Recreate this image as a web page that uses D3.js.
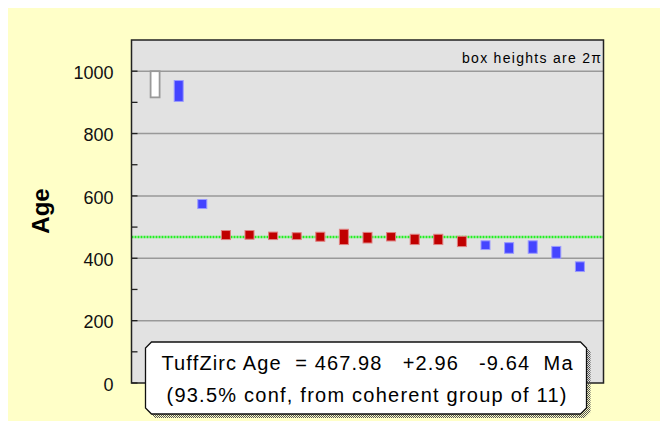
<!DOCTYPE html>
<html>
<head>
<meta charset="utf-8">
<script src="https://cdn.jsdelivr.net/npm/d3@7"></script>
<style>
  body { margin: 0; background: #fff; }
  text { font-family: "Liberation Sans", Arial, sans-serif; }
</style>
</head>
<body>
<svg id="chart" width="660" height="421"></svg>
<script>
// spot ages (Ma)
var ages = [958, 936.5, 574, 474.5, 475, 472, 471, 469, 468.5, 466, 469, 460.5, 460.5, 454, 442, 433, 436, 419, 373];
// half box heights (2 sigma)
var errs = [42, 33.5, 14.5, 14.5, 14, 12, 11, 14.5, 24.5, 17, 13.5, 16.5, 16.5, 16.5, 14, 17, 20, 19, 15.5];
// r = rejected, o = outside coherent group, c = coherent group
var groups = ["r", "o", "o", "c", "c", "c", "c", "c", "c", "c", "c", "c", "c", "c", "o", "o", "o", "o", "o"];
var yTicks = [0, 200, 400, 600, 800, 1000];
var yMinor = [100, 300, 500, 700, 900];
var tuffAge = 467.98;
var line1 = "TuffZirc Age  = 467.98   +2.96   -9.64  Ma";
var line2 = "(93.5% conf, from coherent group of 11)";

var svg = d3.select("#chart");
var plot = {left: 131.5, top: 40, right: 603.5, bottom: 383};

svg.append("rect").attr("x", 8).attr("y", 8).attr("width", 652).attr("height", 413)
    .attr("fill", "#ffffc8");

var x = d3.scaleLinear().domain([0, ages.length + 1]).range([plot.left, plot.right]);
var y = d3.scaleLinear().domain([0, 1100]).range([plot.bottom, plot.top]);

svg.append("rect")
    .attr("x", plot.left).attr("y", plot.top)
    .attr("width", plot.right - plot.left).attr("height", plot.bottom - plot.top)
    .attr("fill", "#e2e2e2");

// grid
svg.selectAll(".grid").data(yTicks.slice(1)).enter()
    .append("line").attr("class", "grid")
    .attr("x1", plot.left).attr("x2", plot.right)
    .attr("y1", d => y(d)).attr("y2", d => y(d))
    .attr("stroke", "#999").attr("stroke-width", 1.5);

// axis ticks inside, labels outside
var axis = d3.axisLeft(y).tickValues(yTicks).tickFormat(d3.format("d")).tickSize(0).tickPadding(18);
var ag = svg.append("g").attr("transform", "translate(" + plot.left + ",0)").call(axis);
ag.select(".domain").remove();
ag.selectAll("text").attr("font-size", 18).attr("fill", "#111")
    .attr("font-family", "Liberation Sans, Arial, sans-serif").attr("dy", "0.4em");

svg.selectAll(".tick-in").data(yTicks.concat(yMinor)).enter()
    .append("line").attr("class", "tick-in")
    .attr("x1", plot.left).attr("x2", plot.left + 6)
    .attr("y1", d => y(d)).attr("y2", d => y(d))
    .attr("stroke", "#222").attr("stroke-width", 1.3);

svg.append("text")
    .attr("transform", "translate(49," + 211 + ") rotate(-90)")
    .attr("text-anchor", "middle")
    .attr("font-size", 24).attr("font-weight", "bold")
    .text("Age");

// weighted age line
svg.append("line")
    .attr("x1", plot.left).attr("x2", plot.right)
    .attr("y1", y(tuffAge)).attr("y2", y(tuffAge))
    .attr("stroke", "#22f022").attr("stroke-width", 2.5)
    .attr("stroke-dasharray", "2,1");

// boxes
var fills = {r: "#ffffff", o: "#4444ff", c: "#c00000"};
var strokes = {r: "#999999", o: "#9a9aff", c: "#e08080"};
var boxW = 9;
svg.selectAll(".box").data(ages).enter()
    .append("rect").attr("class", "box")
    .attr("x", (d, i) => x(i + 1) - boxW / 2)
    .attr("width", boxW)
    .attr("y", (d, i) => y(d + errs[i]))
    .attr("height", (d, i) => y(d - errs[i]) - y(d + errs[i]))
    .attr("fill", (d, i) => fills[groups[i]])
    .attr("stroke", (d, i) => strokes[groups[i]])
    .attr("stroke-width", (d, i) => groups[i] == "r" ? 1.8 : 1);

svg.append("text")
    .attr("x", 601).attr("y", 63)
    .attr("text-anchor", "end")
    .attr("font-size", 14)
    .attr("textLength", 139).attr("lengthAdjust", "spacing")
    .text("box heights are 2\u03c0");

// frame
svg.append("rect")
    .attr("x", plot.left).attr("y", plot.top)
    .attr("width", plot.right - plot.left).attr("height", plot.bottom - plot.top)
    .attr("fill", "none").attr("stroke", "#222").attr("stroke-width", 1.5);

// annotation box with dotted shadow
var defs = svg.append("defs");
var pat = defs.append("pattern").attr("id", "dots").attr("width", 2).attr("height", 2)
    .attr("patternUnits", "userSpaceOnUse");
pat.append("rect").attr("width", 1).attr("height", 1).attr("fill", "#555");
pat.append("rect").attr("x", 1).attr("y", 1).attr("width", 1).attr("height", 1).attr("fill", "#555");

function cutBox(x0, y0, x1, y1, c) {
    return "M" + (x0 + c) + "," + y0 + "H" + (x1 - c) + "L" + x1 + "," + (y0 + c) +
        "V" + (y1 - c) + "L" + (x1 - c) + "," + y1 + "H" + (x0 + c) + "L" + x0 + "," + (y1 - c) +
        "V" + (y0 + c) + "Z";
}
svg.append("path").attr("d", cutBox(149, 345.5, 590.5, 418, 6)).attr("fill", "url(#dots)");
svg.append("path").attr("d", cutBox(145.5, 342, 586.5, 414, 6))
    .attr("fill", "#fff").attr("stroke", "#111").attr("stroke-width", 1.3);

svg.append("text").attr("x", 367).attr("y", 370)
    .attr("text-anchor", "middle").attr("font-size", 20)
    .style("white-space", "pre")
    .attr("textLength", 411).attr("lengthAdjust", "spacing")
    .text(line1);
svg.append("text").attr("x", 366.5).attr("y", 401.5)
    .attr("text-anchor", "middle").attr("font-size", 20)
    .attr("textLength", 400).attr("lengthAdjust", "spacing")
    .text(line2);
</script>
</body>
</html>
